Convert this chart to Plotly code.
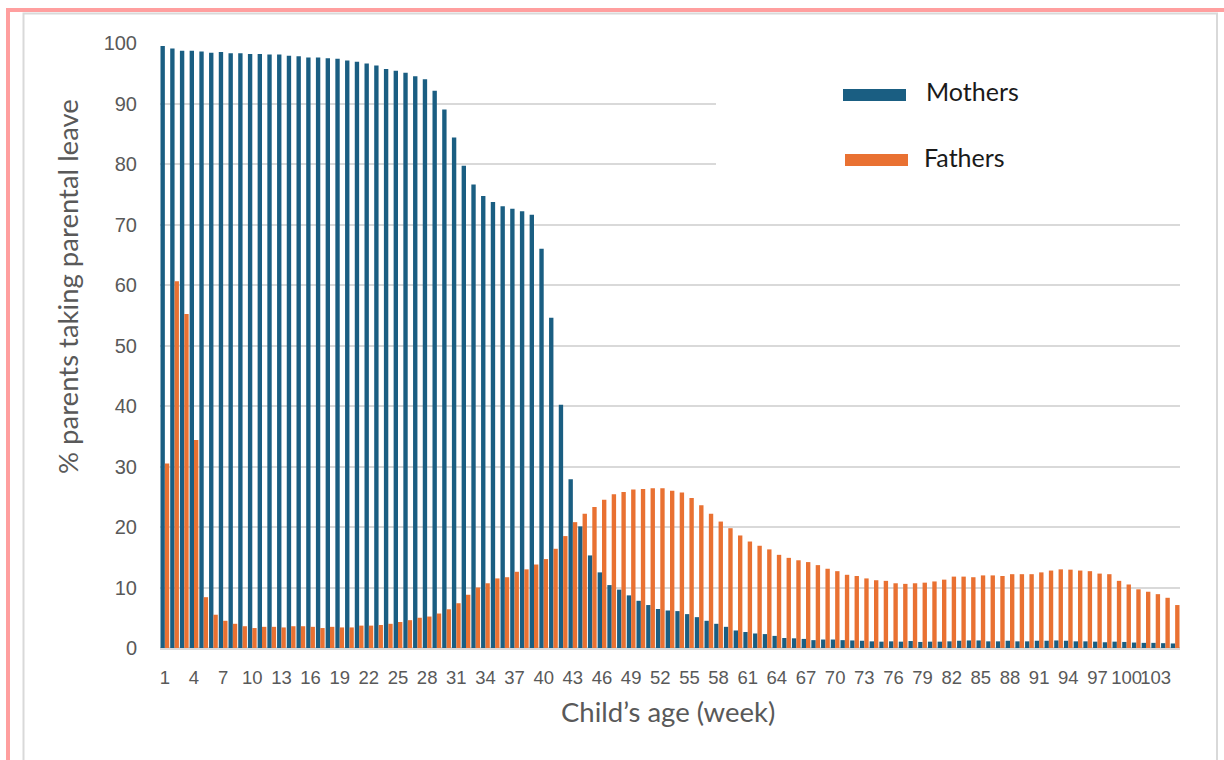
import plotly.graph_objects as go

# Child's age in weeks (categories) and share of parents on leave (%)
weeks = list(range(1, 106))

mothers = [
    99.5, 99.1, 98.7, 98.7, 98.6, 98.4, 98.5, 98.3, 98.3, 98.2,
    98.2, 98.1, 98.1, 97.9, 97.8, 97.6, 97.6, 97.5, 97.4, 97.1,
    96.9, 96.6, 96.3, 95.7, 95.4, 95.1, 94.5, 94.0, 92.1, 89.0,
    84.4, 79.7, 76.6, 74.7, 73.7, 73.0, 72.6, 72.2, 71.6, 66.0,
    54.6, 40.2, 27.9, 20.1, 15.3, 12.5, 10.4, 9.65, 8.7, 7.8,
    7.1, 6.45, 6.2, 6.1, 5.6, 5.1, 4.5, 4.0, 3.5, 2.9,
    2.65, 2.4, 2.3, 2.0, 1.65, 1.6, 1.5, 1.3, 1.4, 1.4,
    1.3, 1.25, 1.2, 1.1, 1.05, 1.1, 1.05, 1.15, 1.0, 1.05,
    1.05, 1.1, 1.2, 1.25, 1.25, 1.1, 1.1, 1.2, 1.1, 1.1,
    1.2, 1.2, 1.25, 1.2, 1.1, 1.1, 1.05, 0.95, 1.05, 1.0,
    0.9, 0.85, 0.85, 0.8, 0.75,
]

fathers = [
    30.5, 60.6, 55.2, 34.4, 8.4, 5.5, 4.5, 4.0, 3.6, 3.3,
    3.5, 3.5, 3.4, 3.6, 3.6, 3.5, 3.3, 3.5, 3.4, 3.4,
    3.7, 3.7, 3.8, 4.0, 4.3, 4.6, 5.0, 5.2, 5.7, 6.4,
    7.4, 8.8, 10.0, 10.7, 11.5, 11.7, 12.6, 13.0, 13.8, 14.7,
    16.4, 18.5, 20.8, 22.2, 23.3, 24.5, 25.4, 25.8, 26.2, 26.3,
    26.4, 26.4, 26.0, 25.7, 24.8, 23.6, 22.2, 20.9, 19.8, 18.6,
    17.6, 16.9, 16.3, 15.4, 14.9, 14.5, 14.2, 13.7, 13.1, 12.7,
    12.1, 11.9, 11.5, 11.2, 11.1, 10.7, 10.6, 10.7, 10.8, 11.0,
    11.3, 11.8, 11.8, 11.7, 12.0, 12.0, 11.9, 12.2, 12.2, 12.2,
    12.5, 12.8, 13.0, 12.95, 12.8, 12.7, 12.3, 12.2, 11.1, 10.5,
    9.7, 9.3, 8.9, 8.3, 7.1,
]

x_ticks = list(range(1, 106, 3))
x_tick_labels = [str(w) for w in x_ticks]
y_ticks = list(range(0, 101, 10))

series_names = ["Mothers", "Fathers"]
BLUE = "#1a5e82"
ORANGE = "#e97132"
GREY_TEXT = "#595959"
GRID = "#d9d9d9"

# plot-area geometry in pixels
W_FIG, H_FIG = 1224, 760
L, R, T, B = 160, 1180, 43, 648
PW, PH = R - L, B - T


def xp(px):
    return (px - L) / PW


def yp(py):
    return (B - py) / PH


fig = go.Figure()
fig.add_trace(go.Bar(x=weeks, y=mothers, name=series_names[0],
                     marker=dict(color=BLUE, line=dict(width=0))))
fig.add_trace(go.Bar(x=weeks, y=fathers, name=series_names[1],
                     marker=dict(color=ORANGE, line=dict(width=0))))

shapes = []
# outer pink frame (top and left edges) and inner grey frame
shapes.append(dict(type="rect", xref="paper", yref="paper", layer="above",
                   x0=xp(6), x1=xp(1230), y0=yp(12), y1=yp(8),
                   fillcolor="#ff9f9f", line=dict(width=0)))
shapes.append(dict(type="rect", xref="paper", yref="paper", layer="above",
                   x0=xp(6), x1=xp(10), y0=yp(770), y1=yp(8),
                   fillcolor="#ff9f9f", line=dict(width=0)))
shapes.append(dict(type="rect", xref="paper", yref="paper", layer="above",
                   x0=xp(23.5), x1=xp(1217), y0=yp(775), y1=yp(13.5),
                   fillcolor="rgba(0,0,0,0)", line=dict(color="#d9d9d9", width=2)))
# white legend panel over the grid
shapes.append(dict(type="rect", xref="paper", yref="paper", layer="above",
                   x0=xp(716), x1=xp(1182), y0=yp(215), y1=yp(52),
                   fillcolor="white", line=dict(width=0)))
# legend swatches
shapes.append(dict(type="rect", xref="paper", yref="paper", layer="above",
                   x0=xp(843), x1=xp(906), y0=yp(101), y1=yp(89),
                   fillcolor=BLUE, line=dict(width=0)))
shapes.append(dict(type="rect", xref="paper", yref="paper", layer="above",
                   x0=xp(845), x1=xp(908), y0=yp(166), y1=yp(154),
                   fillcolor=ORANGE, line=dict(width=0)))

annotations = [
    dict(text=series_names[0], xref="paper", yref="paper", x=xp(924), y=yp(91),
         xanchor="left", yanchor="middle", showarrow=False,
         font=dict(family="Lato", size=25, color="#1a1a1a")),
    dict(text=series_names[1], xref="paper", yref="paper", x=xp(922), y=yp(157),
         xanchor="left", yanchor="middle", showarrow=False,
         font=dict(family="Lato", size=25, color="#1a1a1a")),
    dict(text="Child’s age (week)", xref="paper", yref="paper", x=xp(668), y=yp(711),
         xanchor="center", yanchor="middle", showarrow=False,
         font=dict(family="Lato", size=27.5, color=GREY_TEXT)),
    dict(text="% parents taking parental leave", xref="paper", yref="paper",
         x=xp(67), y=yp(287), xanchor="center", yanchor="middle", textangle=-90,
         showarrow=False, font=dict(family="Lato", size=27.5, color=GREY_TEXT)),
]

fig.update_layout(
    width=W_FIG, height=H_FIG, autosize=False,
    margin=dict(l=L, r=W_FIG - R, t=T, b=H_FIG - B, pad=0),
    paper_bgcolor="white", plot_bgcolor="white",
    barmode="group", bargap=0.1, bargroupgap=0.0,
    showlegend=False,
    shapes=shapes, annotations=annotations,
    xaxis=dict(range=[0.5, 105.5], tickmode="array", tickvals=x_ticks,
               ticktext=x_tick_labels, tickangle=0, showgrid=False,
               showline=True, linecolor=GRID, linewidth=2,
               ticks="", ticklabelstandoff=12,
               tickfont=dict(family="Liberation Sans Narrow, Liberation Sans", size=18.5,
                             color=GREY_TEXT)),
    yaxis=dict(range=[0, 100], tickmode="array", tickvals=y_ticks,
               showgrid=True, gridcolor=GRID, gridwidth=2,
               zeroline=True, zerolinecolor=GRID, zerolinewidth=2,
               ticks="", ticklabelstandoff=22,
               tickfont=dict(family="Liberation Sans", size=20, color=GREY_TEXT)),
)

fig.write_html("out.html")
